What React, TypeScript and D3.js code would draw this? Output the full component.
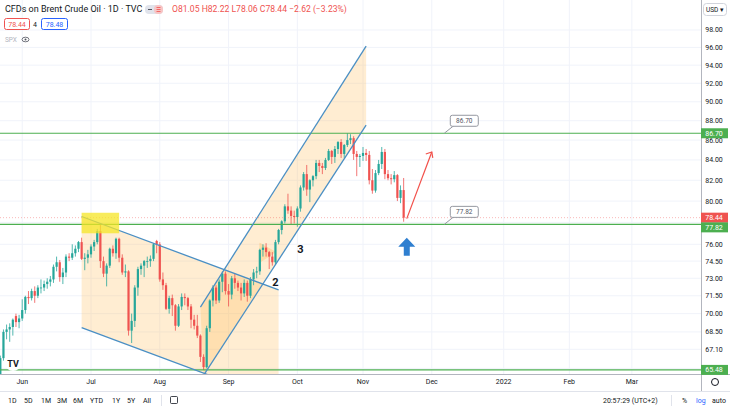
import React from "react";
import * as d3 from "d3";

const W = 730;
const H = 410;

// daily bars [open, high, low, close], one array per month (weekdays)
const may21 = [
  [65.0, 66.6, 64.6, 66.4], [66.4, 68.7, 66.2, 68.5], [68.5, 69.1, 67.9, 68.7], [68.7, 69.2, 67.7, 68.9],
  [68.9, 69.6, 68.2, 69.5], [69.8, 70.0, 68.9, 69.3], [69.3, 69.9, 68.8, 69.6],
];
const jun21 = [
  [69.6, 71.2, 69.4, 70.3], [70.3, 71.5, 70.0, 71.4], [71.4, 71.9, 70.8, 71.3], [71.3, 72.1, 71.1, 71.9],
  [71.9, 72.3, 70.9, 71.5], [71.5, 72.4, 71.3, 72.2], [72.2, 72.9, 71.7, 72.2], [72.2, 72.8, 71.9, 72.5],
  [72.5, 73.0, 72.1, 72.7], [72.7, 73.2, 72.3, 72.9], [72.9, 74.2, 72.6, 74.0], [74.0, 74.9, 73.6, 74.4],
  [74.4, 74.6, 72.7, 73.1], [73.1, 73.9, 72.5, 73.5], [73.5, 75.1, 73.1, 74.9], [74.9, 75.2, 74.5, 74.8],
  [74.8, 76.0, 74.6, 75.2], [75.2, 75.9, 74.9, 75.6], [75.6, 76.3, 75.3, 76.2], [76.2, 76.6, 74.6, 74.7],
  [74.7, 75.2, 73.7, 74.8], [74.8, 75.5, 74.3, 75.1],
];
const jul21 = [
  [75.1, 76.0, 74.8, 75.8], [75.8, 76.4, 75.4, 76.2], [76.2, 77.4, 76.0, 77.2], [77.2, 77.8, 73.9, 74.5],
  [74.5, 74.9, 73.1, 73.4], [73.4, 74.3, 72.3, 74.1], [74.1, 75.7, 73.9, 75.6], [75.6, 75.9, 74.9, 75.2],
  [75.2, 76.6, 74.7, 76.5], [76.5, 76.6, 74.4, 74.8], [74.8, 75.1, 73.3, 73.5], [73.5, 74.2, 73.1, 73.6],
  [73.6, 73.7, 68.2, 68.6], [68.6, 70.0, 67.6, 69.4], [69.4, 72.4, 68.9, 72.2], [72.2, 74.0, 71.5, 73.8],
  [73.8, 74.3, 73.3, 74.1], [74.1, 74.6, 73.1, 74.5], [74.5, 74.9, 73.9, 74.5], [74.5, 75.0, 74.0, 74.7],
  [74.7, 76.1, 74.5, 76.0], [76.3, 76.4, 75.2, 76.0],
];
const aug21 = [
  [76.0, 76.2, 72.7, 72.9], [72.9, 73.5, 72.0, 72.4], [72.4, 72.6, 70.3, 70.4], [70.4, 71.5, 70.0, 71.3],
  [71.3, 71.6, 69.8, 70.7], [70.7, 70.8, 68.6, 69.0], [69.0, 70.8, 68.9, 70.6], [70.6, 71.7, 70.3, 71.4],
  [71.4, 71.7, 70.7, 71.3], [71.3, 71.4, 70.3, 70.6], [70.6, 70.8, 68.8, 69.5], [69.5, 69.9, 68.7, 69.0],
  [69.0, 69.9, 68.0, 68.2], [68.2, 68.3, 66.1, 66.5], [66.5, 66.7, 65.48, 65.7], [65.7, 69.0, 65.6, 68.8],
  [68.8, 71.2, 68.5, 71.1], [71.1, 72.4, 70.6, 72.2], [72.2, 72.4, 70.8, 71.1], [71.1, 72.9, 70.9, 72.7],
  [72.7, 73.6, 71.8, 73.4], [73.4, 73.6, 71.6, 71.9],
];
const sep21 = [
  [71.9, 72.5, 70.6, 71.6], [71.6, 73.2, 71.2, 73.0], [73.0, 73.4, 72.1, 72.6], [72.6, 72.8, 71.9, 72.2],
  [72.2, 72.6, 71.1, 71.7], [71.7, 72.9, 71.4, 72.6], [72.6, 72.8, 71.0, 71.5], [71.5, 73.1, 71.3, 72.9],
  [72.9, 73.8, 72.4, 73.5], [73.5, 74.0, 73.0, 73.6], [73.6, 75.6, 73.3, 75.5], [75.5, 76.0, 74.9, 75.7],
  [75.7, 76.1, 74.9, 75.3], [75.3, 75.4, 73.8, 74.9], [74.9, 75.3, 74.1, 74.4], [74.4, 76.4, 74.2, 76.2],
  [76.2, 77.4, 76.0, 77.3], [77.3, 78.2, 76.9, 78.1], [78.1, 79.7, 77.9, 79.5], [79.5, 80.7, 78.8, 79.1],
  [79.1, 79.5, 77.8, 78.6], [78.6, 79.1, 77.9, 78.5],
];
const oct21 = [
  [78.5, 79.5, 77.6, 79.3], [79.3, 81.5, 79.0, 81.3], [81.3, 82.8, 81.0, 82.6], [82.6, 83.5, 80.5, 81.1],
  [81.1, 82.1, 79.9, 82.0], [82.0, 82.5, 81.4, 82.4], [82.4, 84.0, 82.1, 83.7], [83.7, 84.0, 82.8, 83.4],
  [83.4, 83.7, 82.6, 83.2], [83.2, 84.2, 83.0, 84.0], [84.0, 85.1, 83.9, 84.9], [84.9, 85.0, 83.6, 84.3],
  [84.3, 85.4, 83.7, 85.1], [85.1, 85.9, 84.6, 85.8], [85.8, 86.1, 84.2, 84.6], [84.6, 85.6, 84.2, 85.5],
  [85.5, 86.7, 85.3, 86.0], [86.0, 86.6, 85.6, 86.2], [86.2, 86.4, 84.0, 84.6], [84.6, 84.9, 82.4, 84.3],
  [84.3, 84.6, 83.3, 84.4],
];
const nov21 = [
  [84.4, 85.3, 83.9, 84.7], [84.7, 85.1, 83.9, 84.5], [84.5, 84.9, 81.6, 82.0], [82.0, 83.1, 80.7, 81.0],
  [81.0, 83.0, 80.8, 82.7], [82.7, 84.0, 82.5, 83.6], [83.6, 85.3, 83.1, 84.8], [84.8, 85.1, 82.1, 82.6],
  [82.6, 83.0, 82.0, 82.2], [82.2, 82.6, 81.6, 82.1], [82.1, 82.9, 81.8, 82.5], [82.5, 82.6, 80.0, 80.3],
  [80.3, 81.5, 79.8, 81.05], [81.05, 82.22, 78.06, 78.44],
];

const monthLabels = ["Jun", "Jul", "Aug", "Sep", "Oct", "Nov", "Dec", "2022", "Feb", "Mar"];
const priceTicks = [98, 96, 94, 92, 90, 88, 86, 84, 82, 80, 78, 76, 74.5, 73, 71.5, 70, 68.5, 67.1, 65.6];
const levels = [86.7, 77.82, 65.48];
const lastPrice = 78.44;
const timeframes = ["1D", "5D", "1M", "3M", "6M", "YTD", "1Y", "5Y", "All"];
const tfX = [8, 24, 41, 57, 73, 90, 112, 127, 143];

// drawings, as [date, price]
const descUpper = [["2021-06-28", 78.55], ["2021-09-23", 72.0]];
const descLower = [["2021-06-28", 68.85], ["2021-09-23", 63.1]];
const riseUpper = [["2021-08-19", 70.55], ["2021-11-02", 96.15]];
const riseLower = [["2021-08-20", 65.06], ["2021-11-02", 87.55]];
const yellowBox = [["2021-06-28", 78.9], ["2021-07-14", 77.0]];
const wedge = [["2021-09-15", 76.1], ["2021-09-22", 75.3], ["2021-09-15", 74.4]];
const forecast = [["2021-11-19", 78.35], ["2021-12-01", 84.8]];

const UP = "#26a69a";
const DOWN = "#ef5350";
const GREEN = "#4caf50";
const BLUE = "#4a8fc4";
const FONT = "Roboto, 'Liberation Sans', sans-serif";

export default function App() {
  const plotW = 701;
  const plotH = 374;
  const days = d3
    .timeDay.range(new Date(2021, 4, 21), new Date(2022, 3, 1))
    .filter((d) => d.getDay() % 6 !== 0);
  const fmt = d3.timeFormat("%Y-%m-%d");
  const index = new Map(days.map((d, i) => [fmt(d), i]));
  const at = (s: string) => index.get(s) as number;

  const x = d3.scaleLinear().domain([at("2021-07-01"), at("2021-11-01")]).range([91, 363]);
  const y = d3.scaleLog().domain([65.24, 101.55]).range([373, 0]);
  const px = (s: string) => x(at(s));

  const bars = [...may21, ...jun21, ...jul21, ...aug21, ...sep21, ...oct21, ...nov21];
  const months = d3.timeMonth.range(new Date(2021, 5, 1), new Date(2022, 3, 1));
  const monthX = months.map((m) => x(days.findIndex((d) => d >= m)));

  const pt = (p: (string | number)[]) => [px(p[0] as string), y(p[1] as number)];
  const line = (a: (string | number)[][]) => {
    const [p0, p1] = a.map(pt);
    return { x1: p0[0], y1: p0[1], x2: p1[0], y2: p1[1] };
  };
  const poly = (pts: number[][]) => pts.map((p) => p.join(",")).join(" ");

  const du = line(descUpper), dl = line(descLower);
  const ru = line(riseUpper), rl = line(riseLower);
  const [yb0, yb1] = yellowBox.map(pt);
  const fc = line(forecast);
  const bw = 2.2;

  // tick labels hidden behind the price tags, as on the original
  const tagYs = [86.7, lastPrice, 77.82].map((p) => y(p));
  const shownTicks = priceTicks.filter((t) => tagYs.every((ty) => Math.abs(y(t) - ty) > 6));

  const callout = (price: number, label: string) => {
    const ax = px("2021-12-07");
    const ay = y(price);
    return (
      <g key={label}>
        <path d={`M${ax},${ay} L${ax + 10},${ay - 8}`} stroke="#9598a1" strokeWidth={1} />
        <rect x={ax + 6} y={ay - 18} width={28} height={11} rx={2} fill="#fff" stroke="#9598a1" strokeWidth={1} />
        <text x={ax + 20} y={ay - 10} fontSize={6.5} textAnchor="middle" fill="#50535e">{label}</text>
      </g>
    );
  };

  const tag = (price: number, color: string, shift = 0) => (
    <g key={`tag${price}`}>
      <rect x={plotW} y={y(price) - 5 + shift} width={27} height={10} fill={color} />
      <text x={714} y={y(price) + 2.5 + shift} fontSize={7} textAnchor="middle" fill="#fff">{price.toFixed(2)}</text>
    </g>
  );

  const bx = px("2021-11-19");
  const by = y(76.6);

  return (
    <svg width={W} height={H} style={{ position: "absolute", left: 0, top: 0, background: "#fff" }} fontFamily={FONT}>
      <defs>
        <clipPath id="plot">
          <rect x={0} y={0} width={plotW} height={plotH} />
        </clipPath>
      </defs>

      {/* grid */}
      <g stroke="#f0f3fa" strokeWidth={1}>
        {priceTicks.map((t) => (
          <line key={t} x1={0} x2={plotW} y1={y(t)} y2={y(t)} />
        ))}
        {monthX.map((m, i) => (
          <line key={i} x1={m} x2={m} y1={0} y2={plotH} />
        ))}
      </g>

      <g clipPath="url(#plot)">
        {/* channel fills */}
        <polygon
          points={poly([[du.x1, du.y1], [du.x2, du.y2], [dl.x2, dl.y2], [dl.x1, dl.y1]])}
          fill="#ffb74d" opacity={0.25}
        />
        <polygon
          points={poly([[ru.x1, ru.y1], [ru.x2, ru.y2], [rl.x2, rl.y2], [rl.x1, rl.y1]])}
          fill="#ffb74d" opacity={0.25}
        />
        <polygon points={poly(wedge.map(pt))} fill="#ff9800" opacity={0.2} stroke="#ff9800" strokeWidth={0.8} />

        {/* candles */}
        {bars.map((b, i) => {
          const [o, h, l, c] = b;
          const cx = x(i);
          const col = c >= o ? UP : DOWN;
          const top = y(Math.max(o, c));
          const bot = y(Math.min(o, c));
          return (
            <g key={i}>
              <line x1={cx} x2={cx} y1={y(h)} y2={y(l)} stroke={col} strokeWidth={0.8} />
              <rect x={cx - bw / 2} y={top} width={bw} height={Math.max(bot - top, 0.8)} fill={col} />
            </g>
          );
        })}

        {/* last price line */}
        <line x1={0} x2={plotW} y1={y(lastPrice)} y2={y(lastPrice)} stroke={DOWN} strokeOpacity={0.4} strokeDasharray="1,2" />

        {/* levels */}
        {levels.map((lv) => (
          <line key={lv} x1={0} x2={plotW} y1={y(lv)} y2={y(lv)} stroke={GREEN} strokeWidth={1.2} />
        ))}

        {/* channel lines */}
        <g stroke={BLUE} strokeWidth={1.3}>
          <line {...du} />
          <line {...dl} />
          <line {...ru} />
          <line {...rl} />
        </g>

        <rect x={yb0[0]} y={yb0[1]} width={yb1[0] - yb0[0]} height={yb1[1] - yb0[1]} fill="#f5e626" opacity={0.75} />

        {/* forecast arrow */}
        <line {...fc} stroke="#f2504a" strokeWidth={1.2} />
        <path
          d={`M${fc.x2 - 6},${fc.y2 + 2} L${fc.x2},${fc.y2} L${fc.x2 + 1},${fc.y2 + 6}`}
          fill="none" stroke="#f2504a" strokeWidth={1.2}
        />

        {/* blue up arrow */}
        <path
          d={`M${bx},${by} L${bx + 8.5},${by + 9} L${bx + 3},${by + 9} L${bx + 3},${by + 18} L${bx - 3},${by + 18} L${bx - 3},${by + 9} L${bx - 8.5},${by + 9} Z`}
          fill="#2f7fd0"
        />

        <text x={px("2021-09-21")} y={y(72.3)} fontSize={11} fontWeight="bold" fill="#131722">2</text>
        <text x={px("2021-10-01")} y={y(75.2)} fontSize={11} fontWeight="bold" fill="#131722">3</text>

        {callout(86.7, "86.70")}
        {callout(77.82, "77.82")}

        {/* TV logo */}
        <circle cx={13} cy={363} r={8} fill="#fff" />
        <text x={13} y={366.5} fontSize={9} fontWeight="bold" textAnchor="middle" fill="#131722">TV</text>
      </g>

      {/* axes borders */}
      <line x1={plotW + 0.5} x2={plotW + 0.5} y1={0} y2={391} stroke="#b2b5be" />
      <line x1={0} x2={W} y1={plotH + 0.5} y2={plotH + 0.5} stroke="#b2b5be" />
      <line x1={0} x2={W} y1={391.5} y2={391.5} stroke="#e0e3eb" />

      {/* price axis */}
      <g fontSize={7} fill="#131722" textAnchor="middle">
        {shownTicks.map((t) => (
          <text key={t} x={714} y={y(t) + 2.5}>{t.toFixed(2)}</text>
        ))}
      </g>
      {tag(86.7, GREEN)}
      {tag(lastPrice, DOWN)}
      {tag(77.82, GREEN, 3)}
      {tag(65.48, GREEN)}

      <rect x={703.5} y={3.5} width={23} height={12} rx={3} fill="#fff" stroke="#d1d4dc" />
      <text x={715} y={12} fontSize={6.5} textAnchor="middle" fill="#131722">USD ▾</text>

      {/* time axis */}
      <g fontSize={7} fill="#131722" textAnchor="middle">
        {monthLabels.map((m, i) => (
          <text key={m} x={monthX[i]} y={384}>{m}</text>
        ))}
      </g>
      <circle cx={715} cy={382} r={3.5} fill="none" stroke="#131722" strokeWidth={1} />

      {/* legend */}
      <text x={5} y={12} fontSize={9} fill="#131722">CFDs on Brent Crude Oil · 1D · TVC</text>
      <rect x={145} y={5} width={18} height={9} rx={4} fill="#e0e3eb" />
      <rect x={154} y={5} width={9} height={9} rx={4} fill="#f7c5c5" />
      <line x1={148} x2={152} y1={9.5} y2={9.5} stroke="#50535e" />
      <g stroke={DOWN} strokeWidth={0.8}>
        <line x1={156.5} x2={160.5} y1={7.5} y2={7.5} />
        <line x1={156.5} x2={160.5} y1={9.5} y2={9.5} />
        <line x1={156.5} x2={160.5} y1={11.5} y2={11.5} />
      </g>
      <text x={172} y={12} fontSize={8.6} fill={DOWN}>O81.05 H82.22 L78.06 C78.44 −2.62 (−3.23%)</text>

      <rect x={4.5} y={18.5} width={25} height={11} rx={2} fill="#fff" stroke={DOWN} />
      <text x={17} y={26.5} fontSize={7} textAnchor="middle" fill={DOWN}>78.44</text>
      <text x={35} y={26.5} fontSize={7} textAnchor="middle" fill="#131722">4</text>
      <rect x={41.5} y={18.5} width={26} height={11} rx={2} fill="#fff" stroke="#2962ff" />
      <text x={54.5} y={26.5} fontSize={7} textAnchor="middle" fill="#2962ff">78.48</text>

      <text x={5} y={42} fontSize={6.5} fill="#b2b5be">SPX</text>
      <ellipse cx={25.5} cy={39.5} rx={3.5} ry={2.3} fill="none" stroke="#50535e" strokeWidth={0.8} />
      <circle cx={25.5} cy={39.5} r={1} fill="#50535e" />

      {/* bottom toolbar */}
      <g fontSize={7} fill="#131722">
        {timeframes.map((t, i) => (
          <text key={t} x={tfX[i]} y={403}>{t}</text>
        ))}
        <text x={603} y={403}>20:57:29 (UTC+2)</text>
        <text x={682} y={403}>%</text>
        <text x={696} y={403} fill="#2962ff">log</text>
        <text x={712} y={403}>auto</text>
      </g>
      <line x1={161.5} x2={161.5} y1={395} y2={406} stroke="#e0e3eb" />
      <line x1={671.5} x2={671.5} y1={395} y2={406} stroke="#e0e3eb" />
      <rect x={170.5} y={396.5} width={7} height={7} rx={1} fill="none" stroke="#131722" strokeWidth={0.8} />
    </svg>
  );
}
